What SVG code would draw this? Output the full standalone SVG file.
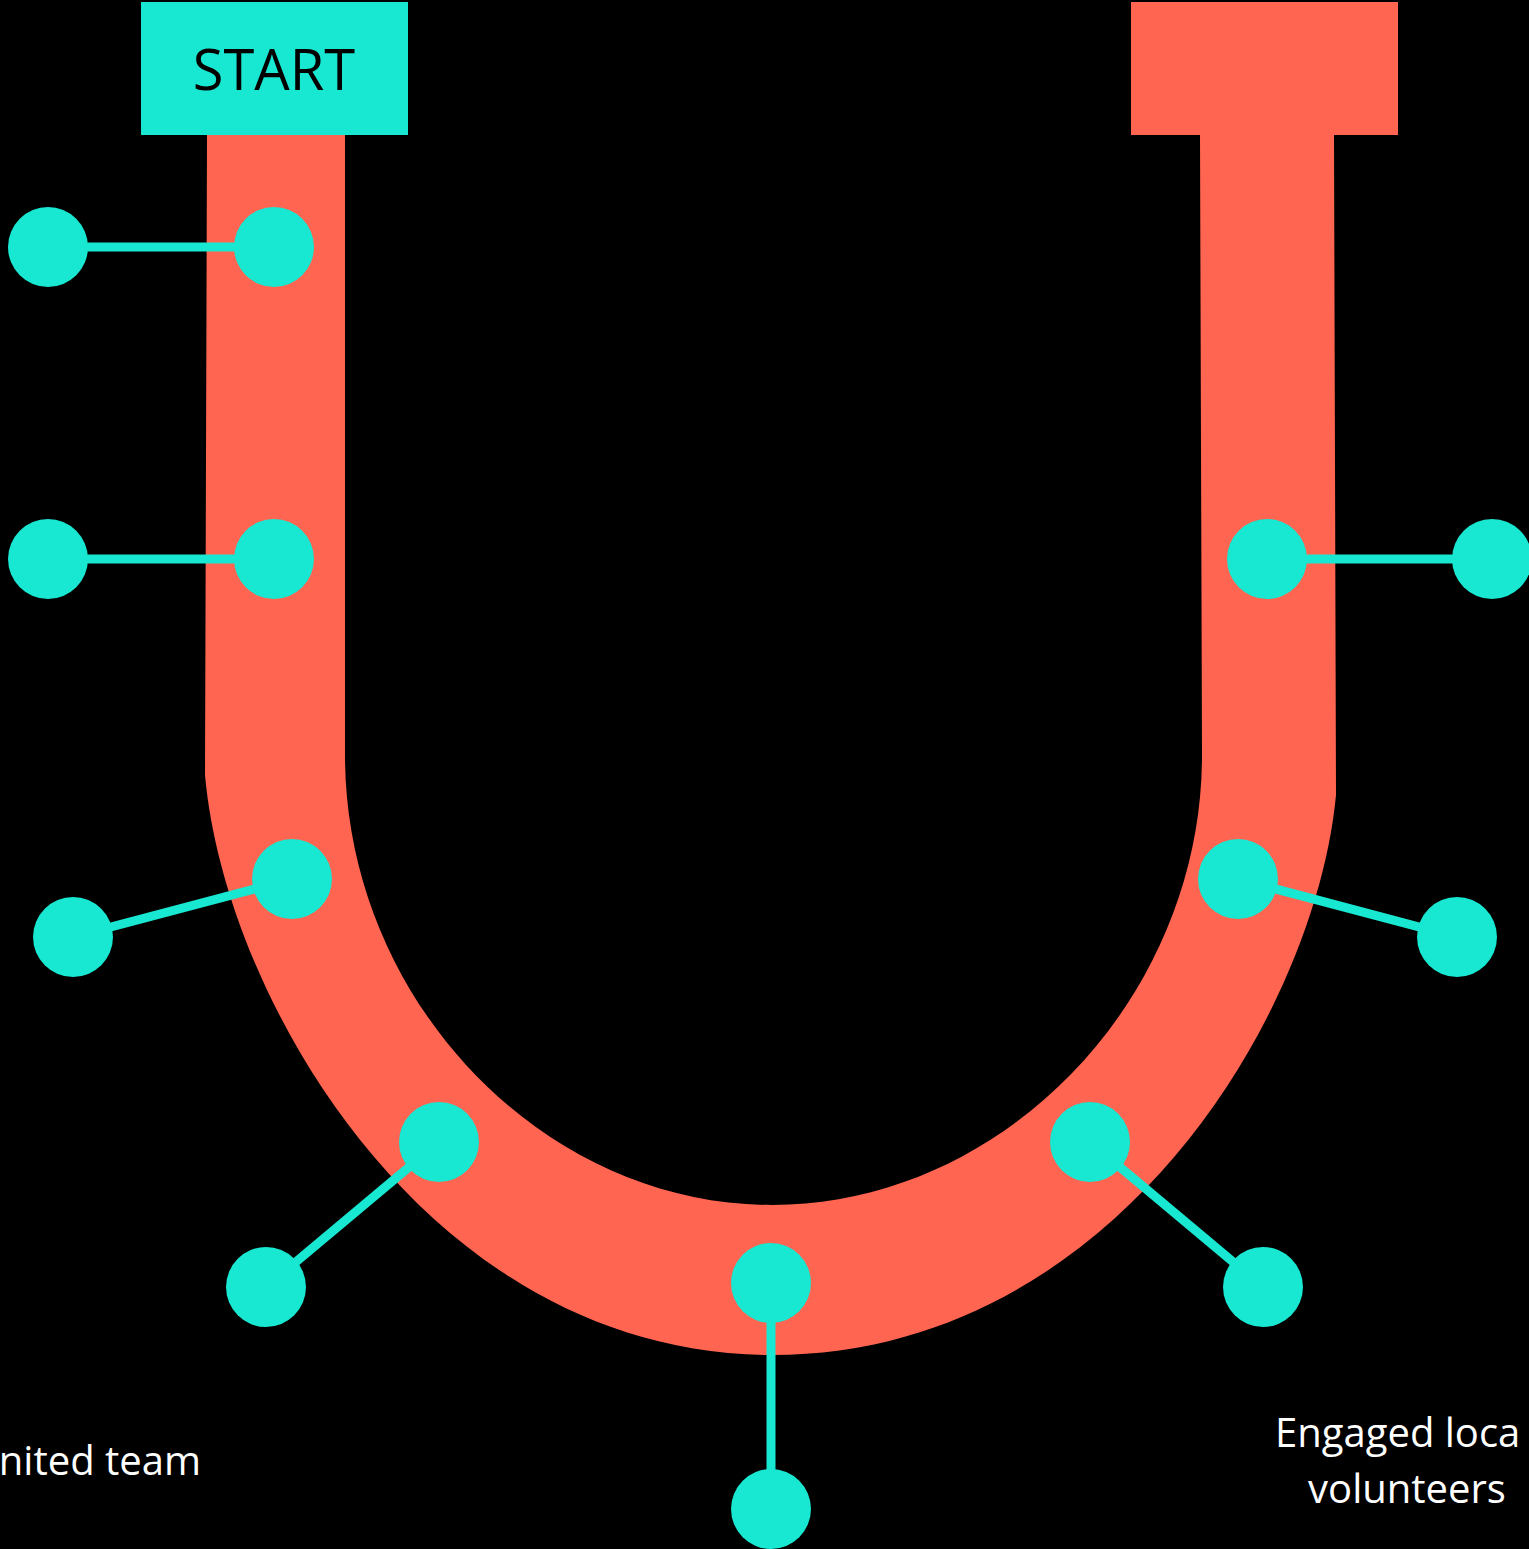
<svg xmlns="http://www.w3.org/2000/svg" width="1529" height="1549" viewBox="0 0 1529 1549">
  <style>
    .band { fill: #FF6550; }
    .dot { fill: #18E7D1; }
    .conn { stroke: #18E7D1; stroke-width: 9; fill: none; }
    .lbl { font-family: "Open Sans", "Liberation Sans", sans-serif; fill: #FFFFFF; font-size: 40px; }
    .start { font-family: "Open Sans", "Liberation Sans", sans-serif; fill: #000000; font-size: 56px; }
  </style>
  <rect x="0" y="0" width="1529" height="1549" fill="#000000"/>
  <g id="band">
    <path class="band" d="M207,135 L205,775 C225,1000 430,1355 772,1355 C1114,1355 1316,1012 1336,795 L1334,135 L1200,135 L1202,755 C1202,998 1004,1205 772,1205 C541,1205 345,998 345,755 L345,135 Z"/>
  </g>
  <g id="start-box">
    <rect x="141" y="2" width="267" height="133" fill="#18E7D1"/>
    <text class="start" x="274" y="90" text-anchor="middle">START</text>
  </g>
  <g id="end-box">
    <rect class="band" x="1131" y="2" width="267" height="133"/>
  </g>
  <g id="connectors">
    <line class="conn" x1="48" y1="247" x2="274" y2="247"/>
    <line class="conn" x1="48" y1="559" x2="274" y2="559"/>
    <line class="conn" x1="73" y1="937" x2="292" y2="879"/>
    <line class="conn" x1="266" y1="1287" x2="439" y2="1142"/>
    <line class="conn" x1="771" y1="1283" x2="771" y2="1509"/>
    <line class="conn" x1="1090" y1="1142" x2="1263" y2="1287"/>
    <line class="conn" x1="1238" y1="879" x2="1457" y2="937"/>
    <line class="conn" x1="1267" y1="559" x2="1492" y2="559"/>
  </g>
  <g id="node-1"><circle class="dot" cx="274" cy="247" r="40"/><circle class="dot" cx="48" cy="247" r="40"/></g>
  <g id="node-2"><circle class="dot" cx="274" cy="559" r="40"/><circle class="dot" cx="48" cy="559" r="40"/></g>
  <g id="node-3"><circle class="dot" cx="292" cy="879" r="40"/><circle class="dot" cx="73" cy="937" r="40"/></g>
  <g id="node-4"><circle class="dot" cx="439" cy="1142" r="40"/><circle class="dot" cx="266" cy="1287" r="40"/></g>
  <g id="node-5"><circle class="dot" cx="771" cy="1283" r="40"/><circle class="dot" cx="771" cy="1509" r="40"/></g>
  <g id="node-6"><circle class="dot" cx="1090" cy="1142" r="40"/><circle class="dot" cx="1263" cy="1287" r="40"/></g>
  <g id="node-7"><circle class="dot" cx="1238" cy="879" r="40"/><circle class="dot" cx="1457" cy="937" r="40"/></g>
  <g id="node-8"><circle class="dot" cx="1267" cy="559" r="40"/><circle class="dot" cx="1492" cy="559" r="40"/></g>
  <g id="label-left">
    <text class="lbl" x="201" y="1475" text-anchor="end">nited team</text>
  </g>
  <g id="label-right">
    <text class="lbl" x="1275" y="1447" font-size="41">Engaged loca</text>
    <text class="lbl" x="1407" y="1503" text-anchor="middle" font-size="41">volunteers</text>
  </g>
</svg>
